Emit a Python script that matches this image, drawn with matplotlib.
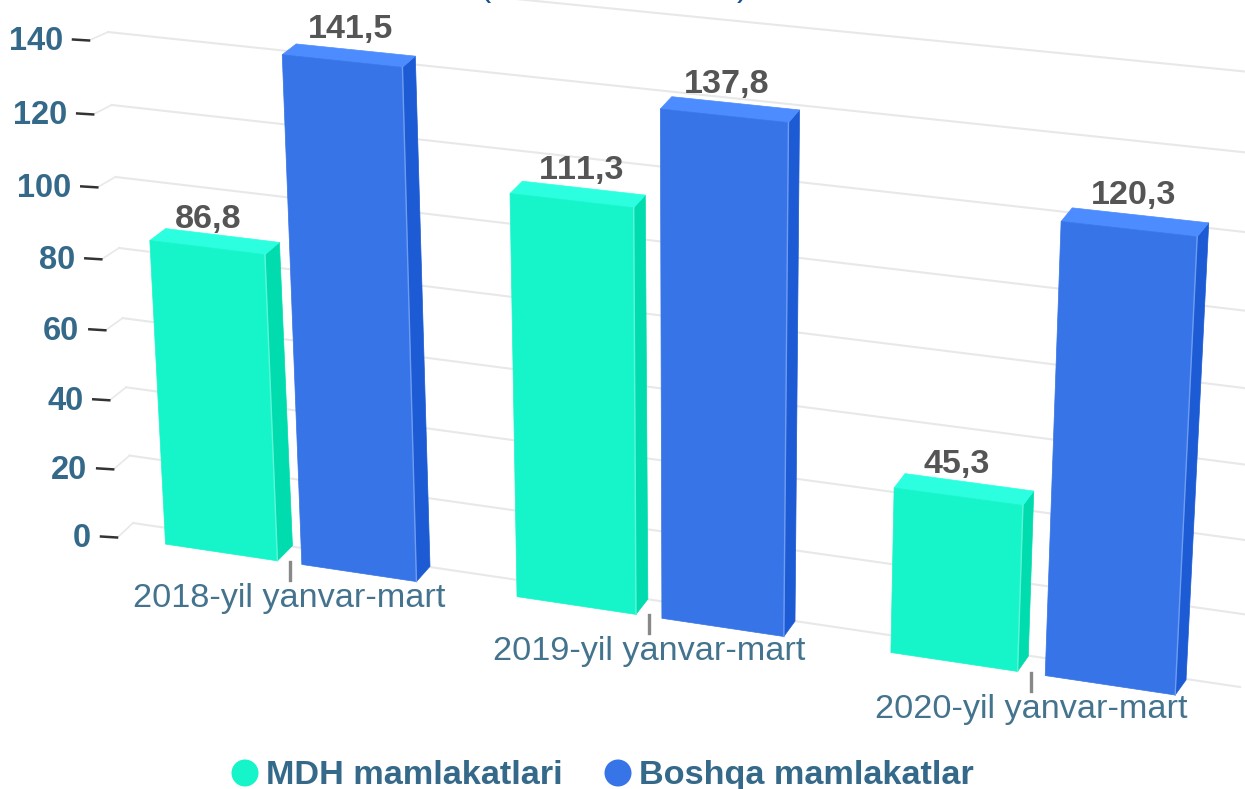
import numpy as np
import matplotlib
matplotlib.use('Agg')
import matplotlib.pyplot as plt
from matplotlib.patches import Polygon, Circle

plt.rcParams['font.family'] = ['Liberation Sans', 'DejaVu Sans']
plt.rcParams['text.kerning_factor'] = 6

categories = ['2018-yil yanvar-mart', '2019-yil yanvar-mart', '2020-yil yanvar-mart']
series_names = ['MDH mamlakatlari', 'Boshqa mamlakatlar']
mdh = [86.8, 111.3, 45.3]
boshqa = [141.5, 137.8, 120.3]
value_labels = [['86,8', '111,3', '45,3'], ['141,5', '137,8', '120,3']]
y_ticks = [0, 20, 40, 60, 80, 100, 120, 140]

front_colors = ['#16f5c9', '#3674e8']
top_colors = ['#2bffe0', '#4d8cff']
side_colors = ['#00dcae', '#1c5bd3']
edge_colors = ['#5cf5d8', '#6f9cf0']
grid_color = '#e8e8e8'
label_color = '#35698a'
value_color = '#555555'


def homography(dst):
    # maps (category position 0..3, value 0..140) to pixels, from the four plane corners
    src = [(0, 0), (3, 0), (0, 140), (3, 140)]
    A, b = [], []
    for (u, v), (x, y) in zip(src, dst):
        A.append([u, v, 1, 0, 0, 0, -u * x, -v * x])
        A.append([0, 0, 0, u, v, 1, -u * y, -v * y])
        b += [x, y]
    h = np.linalg.solve(np.array(A, float), np.array(b, float))
    return np.append(h, 1).reshape(3, 3)


front_corners = np.array([(118, 537), (1232, 703.5), (90, 40), (1261, 164)], float)
wall_corners = np.array([(133, 523), (1240, 687), (108, 32), (1270, 155)], float)
back_corners = front_corners + np.array([(17, -15), (11, -15), (16, -10), (12, -14)], float)

H_front = homography(front_corners)
H_back = homography(back_corners)
H_wall = homography(wall_corners)


def project(H, u, v):
    p = H @ np.array([u, v, 1.0])
    return p[0] / p[2], p[1] / p[2]


fig = plt.figure(figsize=(12.45, 7.89), dpi=100)
ax = fig.add_axes([0, 0, 1, 1])
ax.set_xlim(0, 1245)
ax.set_ylim(789, 0)
ax.axis('off')

# cut off title, only the brackets reach into the picture
ax.text(485, 3, '(', fontsize=24, color='#1f4e8c', ha='center', va='bottom')
ax.text(742, 3, ')', fontsize=24, color='#1f4e8c', ha='center', va='bottom')

# back wall grid, 160 runs off the top
for v in y_ticks + [160]:
    x0, y0 = project(H_wall, 0, v)
    x1, y1 = project(H_wall, 3, v)
    ax.plot([x0, x1], [y0, y1], color=grid_color, lw=1.5, zorder=1)
for v in y_ticks:
    fx, fy = project(H_front, 0, v)
    wx, wy = project(H_wall, 0, v)
    ax.plot([fx, wx], [fy, wy], color=grid_color, lw=1.2, zorder=1)
    ax.plot([fx - 17, fx - 1], [fy - 0.5, fy + 0.5], color='#333333', lw=1.8, zorder=2)
    ax.text(fx - 27, fy - 2, str(v), fontsize=23.5, fontweight='bold', color=label_color,
            ha='right', va='center_baseline')

# category ticks and labels
for i, cat in enumerate(categories):
    x, y = project(H_front, i + 0.5, 0)
    ax.plot([x, x], [y - 1, y + 17], color='#888888', lw=2.4, zorder=2)
    ax.text(x, y + 32, cat, fontsize=24.7, color='#44738e', ha='center', va='center_baseline')

bar_start = [0.14, 0.535]
bar_width = 0.325
# small shifts of the value labels, as in the source picture
label_dx = [[1, 10, -2], [8, 2, 4]]
label_dy = [[-32, -34, -36], [-35, -35, -37]]

for s, values in enumerate([mdh, boshqa]):
    for i, val in enumerate(values):
        u0 = i + bar_start[s]
        u1 = u0 + bar_width
        fl0 = project(H_front, u0, 0)
        fr0 = project(H_front, u1, 0)
        fl1 = project(H_front, u0, val)
        fr1 = project(H_front, u1, val)
        br0 = project(H_back, u1, 0)
        bl1 = project(H_back, u0, val)
        br1 = project(H_back, u1, val)
        ax.add_patch(Polygon([fr0, br0, br1, fr1], fc=side_colors[s], ec=side_colors[s], lw=0.5, zorder=3))
        ax.add_patch(Polygon([fl1, bl1, br1, fr1], fc=top_colors[s], ec=top_colors[s], lw=0.5, zorder=3))
        ax.add_patch(Polygon([fl0, fr0, fr1, fl1], fc=front_colors[s], ec=front_colors[s], lw=0.5, zorder=4))
        ax.plot([fr0[0], fr1[0]], [fr0[1], fr1[1]], color=edge_colors[s], lw=1, zorder=4)
        cx = (fl1[0] + fr1[0]) / 2
        cy = (fl1[1] + fr1[1]) / 2
        ax.text(cx + label_dx[s][i], cy + label_dy[s][i], value_labels[s][i], fontsize=24.6, fontweight='bold',
                color=value_color, ha='center', va='center_baseline', zorder=5)

# legend
legend_x = [245, 618]
for s, name in enumerate(series_names):
    ax.add_patch(Circle((legend_x[s], 773), 13.5, fc=front_colors[s], ec='none'))
    ax.text(legend_x[s] + 21, 772, name, fontsize=24.7, fontweight='bold', color=label_color,
            ha='left', va='center_baseline')

plt.savefig('out.png', dpi=100)
